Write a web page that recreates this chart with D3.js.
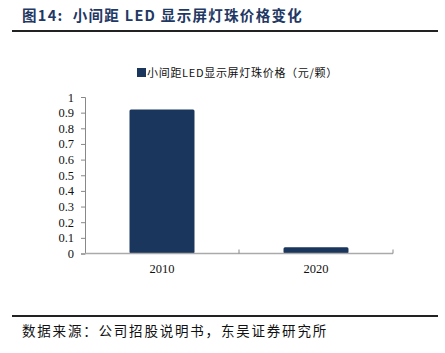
<!DOCTYPE html>
<html><head><meta charset="utf-8">
<script src="https://cdn.jsdelivr.net/npm/d3@7"></script>
<style>body{margin:0;background:#fff}svg{display:block}</style>
</head><body>
<svg id="c" width="445" height="353"></svg>
<script>
const categories = ["2010", "2020"];
const values = [0.92, 0.04];
const yTicks = [0, 0.1, 0.2, 0.3, 0.4, 0.5, 0.6, 0.7, 0.8, 0.9, 1];
const seriesName = "小间距LED显示屏灯珠价格（元/颗）";
const title = "图14:  小间距 LED 显示屏灯珠价格变化";
const source = "数据来源：公司招股说明书，东吴证券研究所";

(function () {
const svg = d3.select("#c");
const barColor = "#1b365d";
const pl = 85, pr = 393, pt = 97, pb = 253.5;

// title
svg.append("text").attr("x", 22).attr("y", 21).style("white-space", "pre")
  .attr("font-family", "'Noto Sans CJK SC', sans-serif").attr("font-weight", "bold")
  .attr("font-size", 14.5).attr("letter-spacing", 1.3).attr("fill", "#1f3864").text(title);
svg.append("line").attr("x1", 12).attr("x2", 438).attr("y1", 31).attr("y2", 31)
  .attr("stroke", "#222").attr("stroke-width", 2);

// legend
svg.append("rect").attr("x", 137).attr("y", 68).attr("width", 9).attr("height", 9).attr("fill", barColor);
svg.append("text").attr("x", 147).attr("y", 77)
  .attr("font-family", "'Noto Sans CJK SC', sans-serif").attr("font-size", 11)
  .attr("letter-spacing", 0.7).attr("fill", "#111").text(seriesName);

const x = d3.scaleBand().domain(categories).range([pl, pr]).paddingInner(0.578).paddingOuter(0.289);
const y = d3.scaleLinear().domain([0, 1]).range([pb, pt]);

// y axis
const yAxis = svg.append("g").attr("transform", `translate(${pl},0)`)
  .call(d3.axisLeft(y).tickValues(yTicks).tickSize(4).tickFormat(d => d3.format("")(d)));
yAxis.select(".domain").attr("stroke", "#888");
yAxis.selectAll(".tick line").attr("stroke", "#888");
yAxis.selectAll("text").attr("font-family", "'Liberation Serif', serif").attr("font-size", 12.5)
  .attr("fill", "#111").attr("x", -11);

// bars
svg.selectAll(".bar").data(values).join("rect").attr("class", "bar")
  .attr("x", (d, i) => x(categories[i])).attr("width", x.bandwidth())
  .attr("y", d => y(d)).attr("height", d => pb - y(d))
  .attr("rx", 1.5).attr("fill", barColor);

// x axis
const xg = svg.append("g");
xg.append("line").attr("x1", pl).attr("x2", pr).attr("y1", pb).attr("y2", pb)
  .attr("stroke", "#aaa").attr("stroke-width", 1.5);
const boundaries = [pl + (pr - pl) / 2, pr];
xg.selectAll(".bt").data(boundaries).join("line").attr("class", "bt")
  .attr("x1", d => d).attr("x2", d => d).attr("y1", pb - 4).attr("y2", pb)
  .attr("stroke", "#888");
xg.selectAll(".xl").data(categories).join("text").attr("class", "xl")
  .attr("x", d => x(d) + x.bandwidth() / 2).attr("y", 273).attr("text-anchor", "middle")
  .attr("font-family", "'Liberation Serif', serif").attr("font-size", 12.5).attr("fill", "#111")
  .text(d => d);

// bottom line & source
svg.append("line").attr("x1", 12).attr("x2", 438).attr("y1", 316).attr("y2", 316)
  .attr("stroke", "#222").attr("stroke-width", 2);
svg.append("text").attr("x", 22).attr("y", 336)
  .attr("font-family", "'Noto Sans CJK SC', sans-serif").attr("font-size", 13.5)
  .attr("letter-spacing", 1.8).attr("fill", "#111").text(source);
})();
</script>
</body></html>
